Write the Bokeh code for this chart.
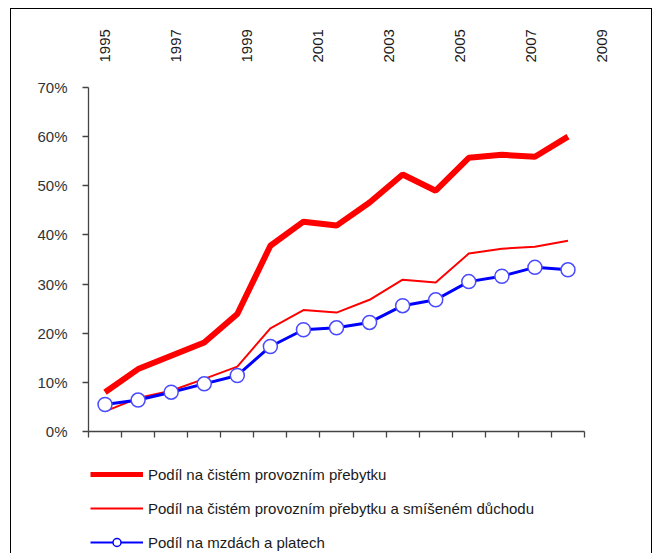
from bokeh.plotting import figure
from bokeh.models import (Range1d, FixedTicker, NumeralTickFormatter, Legend, LegendItem,
                          LinearAxis, ColumnDataSource)
from bokeh.layouts import column
from bokeh.embed import file_html
from bokeh.resources import INLINE

years = [1995, 1996, 1997, 1998, 1999, 2000, 2001, 2002, 2003, 2004, 2005, 2006, 2007, 2008, 2009]
surplus = [8.0, 12.7, 15.4, 18.1, 23.9, 37.8, 42.7, 41.9, 46.6, 52.3, 49.0, 55.7, 56.3, 55.9, 60.0]
surplus_mixed = [4.1, 6.8, 8.3, 10.7, 13.2, 21.0, 24.7, 24.2, 26.8, 30.9, 30.3, 36.2, 37.2, 37.6, 38.8]
wages = [5.5, 6.4, 8.0, 9.7, 11.4, 17.3, 20.7, 21.1, 22.2, 25.6, 26.8, 30.5, 31.6, 33.4, 32.9]
top_labels = ["1995", "1997", "1999", "2001", "2003", "2005", "2007", "2009"]

names = ["Podíl na čistém provozním přebytku",
         "Podíl na čistém provozním přebytku a smíšeném důchodu",
         "Podíl na mzdách a platech"]

FONT = "Liberation Sans"
AX = "#444444"

p = figure(width=640, height=434, output_backend="svg", toolbar_location=None,
           x_range=Range1d(1994.5, 2010.588), y_range=Range1d(0, 0.70),
           min_border_left=77, min_border_right=31, min_border_top=78, min_border_bottom=12,
           background_fill_color="white", border_fill_color="white")
p.outline_line_color = None
p.grid.visible = False

src = ColumnDataSource(dict(x=years,
                            s=[v / 100 for v in surplus],
                            m=[v / 100 for v in surplus_mixed],
                            w=[v / 100 for v in wages]))

p.line("x", "m", source=src, line_color="#ff0000", line_width=2)
p.line("x", "s", source=src, line_color="#ff0000", line_width=6)
p.line("x", "w", source=src, line_color="#0000ff", line_width=3)
p.scatter("x", "w", source=src, size=14, fill_color="white", line_color="#4a4aff", line_width=1.5)

# axes
ya = p.yaxis[0]
ya.ticker = FixedTicker(ticks=[i / 10 for i in range(8)])
ya.formatter = NumeralTickFormatter(format="0%")
ya.major_label_text_font = FONT
ya.major_label_text_font_size = "15px"
ya.major_label_text_color = "#333333"
ya.major_label_standoff = 15
ya.major_tick_out = 6
ya.major_tick_in = 0
ya.minor_tick_out = 0
ya.minor_tick_in = 0
ya.axis_line_color = AX
ya.major_tick_line_color = AX
ya.axis_line_width = 1.3
ya.major_tick_line_width = 1.3

xa = p.xaxis[0]
xa.bounds = (years[0] - 0.5, years[-1] + 0.5)
xa.ticker = FixedTicker(ticks=[y - 0.5 for y in years] + [years[-1] + 0.5])
xa.major_label_text_font_size = "0px"
xa.major_label_standoff = 0
xa.major_tick_out = 6
xa.major_tick_in = 0
xa.minor_tick_out = 0
xa.minor_tick_in = 0
xa.axis_line_color = AX
xa.major_tick_line_color = AX
xa.axis_line_width = 1.3
xa.major_tick_line_width = 1.3

# top year labels on their own scale
p.extra_x_ranges = {"top": Range1d(1994.549, 2009.535)}
ta = LinearAxis(x_range_name="top",
                ticker=FixedTicker(ticks=[int(t) for t in top_labels]),
                major_label_overrides={int(t): t for t in top_labels},
                major_label_orientation="vertical",
                major_label_standoff=25,
                major_label_text_font=FONT, major_label_text_font_size="15px",
                major_label_text_color="#1a1a1a",
                axis_line_color=None, major_tick_line_color=None, minor_tick_line_color=None,
                major_tick_out=0, major_tick_in=0, minor_tick_out=0, minor_tick_in=0)
p.add_layout(ta, "above")

# legend in its own strip below the chart (proxy renderers fall outside its ranges)
q = figure(width=640, height=110, output_backend="svg", toolbar_location=None,
           x_range=Range1d(0, 1), y_range=Range1d(0, 1),
           x_axis_location=None, y_axis_location=None,
           min_border_left=0, min_border_right=0, min_border_top=0, min_border_bottom=0,
           background_fill_color="white", border_fill_color="white")
q.outline_line_color = None
q.grid.visible = False
l1 = q.line("x", "s", source=src, line_color="#ff0000", line_width=5)
l2 = q.line("x", "m", source=src, line_color="#ff0000", line_width=2)
l3a = q.line("x", "w", source=src, line_color="#0000ff", line_width=2)
l3b = q.scatter("x", "w", source=src, size=7, fill_color="white", line_color="#0000ff", line_width=1.5)

legend = Legend(items=[LegendItem(label=names[0], renderers=[l1]),
                       LegendItem(label=names[1], renderers=[l2]),
                       LegendItem(label=names[2], renderers=[l3a, l3b])],
                location=(2, 1), orientation="vertical",
                glyph_width=53, glyph_height=20, label_height=20, spacing=14,
                label_standoff=5, padding=0, margin=0,
                border_line_color=None, background_fill_alpha=0,
                label_text_font=FONT, label_text_font_size="15px", label_text_color="#1a1a1a")
q.add_layout(legend, "center")

layout = column(p, q, spacing=0,
                styles={"margin-left": "10px", "margin-top": "8px",
                        "border-left": "1px solid #000", "border-top": "1px solid #000",
                        "border-right": "1px solid #000"})

open("out.html", "w").write(file_html(layout, INLINE))
